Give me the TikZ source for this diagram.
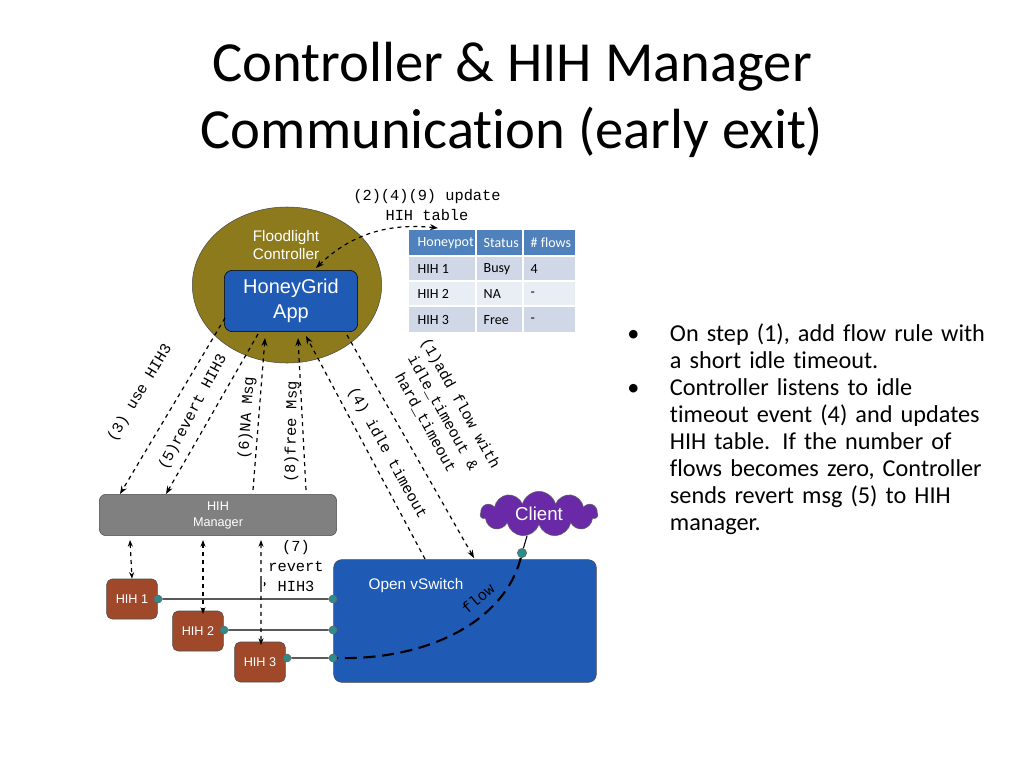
\documentclass[tikz,border=0pt]{standalone}
\usepackage{fontspec}
\setmainfont{Carlito}[Ligatures=NoCommon]
\newfontfamily\lsans{Liberation Sans}
\newfontfamily\lmono{Liberation Mono}
\usetikzlibrary{shapes.symbols,shapes.geometric,arrows.meta}
\definecolor{olive}{HTML}{8C7A1C}
\definecolor{appblue}{HTML}{1F5BB5}
\definecolor{hdr}{HTML}{4F81BD}
\definecolor{rowa}{HTML}{D0D8E8}
\definecolor{rowb}{HTML}{E9EDF4}
\definecolor{brown}{HTML}{A0482A}
\definecolor{teal}{HTML}{2E8B8B}
\definecolor{purp}{HTML}{6A2AA8}
\begin{document}
\begin{tikzpicture}[x=0.75pt,y=-0.75pt,
  dsh/.style={dashed,line width=0.9pt},
  arr/.style={-{Stealth[length=6pt]}},
  lbl/.style={font=\lmono\fontsize{11.5}{15}\selectfont,align=center,inner sep=0pt},
  hih/.style={draw=black!70,fill=brown,rounded corners=4pt,minimum width=38pt,minimum height=30pt,text=white,font=\lsans\fontsize{9.5}{11}\selectfont},
  port/.style={circle,fill=teal,draw=black!60,inner sep=0pt,minimum size=6pt},
  cell/.style={font=\fontsize{10.5}{12}\selectfont,anchor=west}]
\useasboundingbox (0,0) rectangle (1024,768);
% title
\node[font=\fontsize{42.5}{50}\selectfont,align=center] (title) at (512,100) {Controller \& HIH Manager\\Communication (early exit)};
% controller
\node[ellipse,draw=black!70,fill=olive,minimum width=142pt,minimum height=117pt] (ctl) at (287,285) {};
\node[text=white,font=\lsans\fontsize{11.5}{14}\selectfont,align=left] (fl) at (286,245) {Floodlight\\Controller};
\node[draw=black,fill=appblue,rounded corners=6pt,minimum width=100pt,minimum height=46pt,text=white,font=\lsans\fontsize{15}{18.5}\selectfont,align=center] (app) at (291,301) {HoneyGrid\\App};
% table
\fill[hdr] (409,230) rectangle (575,256);
\fill[rowa] (409,256) rectangle (575,281);
\fill[rowb] (409,281) rectangle (575,306);
\fill[rowa] (409,306) rectangle (575,332);
\draw[white,line width=1.5pt] (409,256)--(575,256) (409,281)--(575,281) (409,306)--(575,306) (476,230)--(476,332) (523,230)--(523,332);
\node[cell,text=white] (h1) at (413,243) {Honeypot};
\node[cell,text=white] (h2) at (479,243) {Status};
\node[cell,text=white] (h3) at (526,243) {\# flows};
\node[cell] (a1) at (413,269) {HIH 1};
\node[cell] (a2) at (479,269) {Busy};
\node[cell] (a3) at (526,269) {4};
\node[cell] (b1) at (413,294) {HIH 2};
\node[cell] (b2) at (479,294) {NA};
\node[cell] (b3) at (526,294) {-};
\node[cell] (c1) at (413,320) {HIH 3};
\node[cell] (c2) at (479,320) {Free};
\node[cell] (c3) at (526,320) {-};
\node[lbl] (upd) at (427,205) {(2)(4)(9) update\\HIH table};
\coordinate (tbtop) at (438,228);
\coordinate (appc) at (316,268);
\draw[dsh,{Stealth[length=6pt]}-{Stealth[length=6pt]}] (appc) .. controls (345,240) and (380,222) .. (tbtop);
% bullets
\node[font=\fontsize{18.2}{20.3}\selectfont,align=left,anchor=north west,text width=300pt,inner sep=0pt] (bul) at (627,323) {%
\makebox[32pt][l]{\textbullet}On step (1), add flow rule with\\\hspace*{32pt}a short idle timeout.\\
\makebox[32pt][l]{\textbullet}Controller listens to idle\\\hspace*{32pt}timeout event (4) and updates\\\hspace*{32pt}HIH table. If the number of\\\hspace*{32pt}flows becomes zero, Controller\\\hspace*{32pt}sends revert msg (5) to HIH\\\hspace*{32pt}manager.};
% manager
\node[draw=black!70,fill=black!50,rounded corners=5pt,minimum width=178pt,minimum height=31pt,text=white,font=\lsans\fontsize{9.5}{12}\selectfont,align=center] (mgr) at (218,515) {HIH\\Manager};
% client
\node[cloud,cloud puffs=11,aspect=2.6,draw=black!60,fill=purp,text=white,font=\lsans\fontsize{14}{16}\selectfont,minimum width=88pt,minimum height=34pt,inner sep=0pt] (cli) at (539,514) {Client};
% switch
\node[draw=black!70,fill=appblue,rounded corners=6pt,minimum width=197pt,minimum height=92pt] (sw) at (465,621) {};
\node[text=white,font=\lsans\fontsize{11.5}{14}\selectfont] (swl) at (416,586) {Open vSwitch};
% hihs
\node[hih] (hih1) at (132,599) {HIH 1};
\node[hih] (hih2) at (198,631) {HIH 2};
\node[hih] (hih3) at (260,662) {HIH 3};
\node[port] (p1) at (158,599) {};
\node[port] (p2) at (224,630) {};
\node[port] (p3) at (287,658) {};
\node[port] (s1) at (333,599) {};
\node[port] (s2) at (333,630) {};
\node[port] (s3) at (333,658) {};
\node[port,minimum size=7pt] (sc) at (522,553) {};
\coordinate (clib) at (527,536);
\draw[thick] (p1)--(s1) (p2)--(s2) (p3)--(s3) (clib) -- (sc);
% manager<->hih
\coordinate (m1) at (130,540); \coordinate (m2) at (203,540); \coordinate (m3) at (261,540);
\coordinate (h2t) at (203,614); \coordinate (h3a) at (261,588); \coordinate (h3t) at (261,645);
\draw[dsh,{Stealth[length=5pt]}-{Stealth[length=5pt]}] (m1) -- (hih1.north);
\draw[dsh,{Stealth[length=5pt]}-{Stealth[length=5pt]}] (m2) -- (h2t);
\draw[dsh,{Stealth[length=5pt]}-{Stealth[length=5pt]}] (m3) -- (h3a) arc[start angle=90,end angle=-90,radius=4] -- (h3t);
\node[lbl] (l7) at (296,566) {(7)\\revert\\HIH3};
% controller<->manager
\coordinate (c3a) at (225,318); \coordinate (c5a) at (258,334);
\coordinate (m3in) at (120,494); \coordinate (m5in) at (166,494);
\coordinate (m6) at (253,490); \coordinate (a6) at (265,338);
\coordinate (m8) at (306,490); \coordinate (a8) at (298,338);
\coordinate (s4) at (425,559); \coordinate (a4) at (306,336);
\coordinate (a1) at (347,335); \coordinate (s1in) at (474,558);
\draw[dsh,arr] (c3a) -- (m3in);
\draw[dsh,arr] (c5a) -- (m5in);
\draw[dsh,arr] (m6) -- (a6);
\draw[dsh,arr] (m8) -- (a8);
\draw[dsh,arr] (s4) -- (a4);
\draw[dsh,arr] (a1) -- (s1in);
\node[lbl,rotate=59] (t3) at (140,393) {(3) use HIH3};
\node[lbl,rotate=62] (t5) at (193,412) {(5)revert HIH3};
\node[lbl,rotate=86] (t6) at (247,418) {(6)NA Msg};
\node[lbl,rotate=89] (t8) at (292,432) {(8)free Msg};
\node[lbl,rotate=-61] (t4) at (387,453) {(4) idle timeout};
\node[lbl,rotate=-61] (t1) at (443,413) {(1)add flow with\\idle\_timeout \&\\hard\_timeout};
% flow
\draw[line width=1.6pt,dash pattern=on 9pt off 5pt] (sc) .. controls (505,620) and (430,660) .. (s3);
\node[lbl,rotate=40] (fw) at (478,598) {flow};
\end{tikzpicture}
\end{document}
